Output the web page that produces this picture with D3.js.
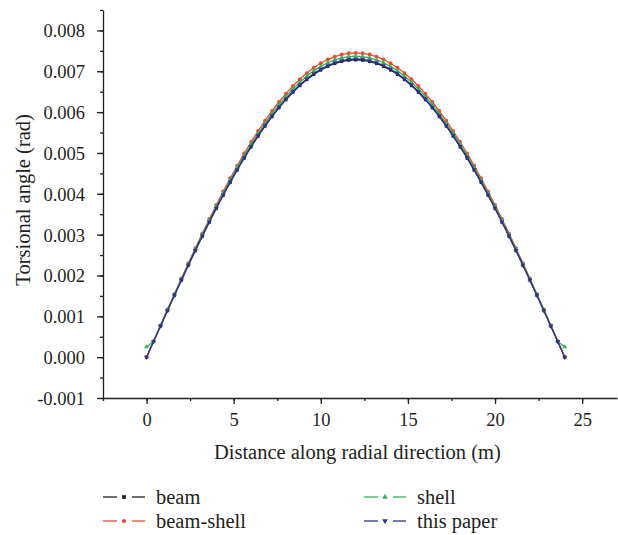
<!DOCTYPE html>
<html>
<head>
<meta charset="utf-8">
<script src="https://unpkg.com/d3@7/dist/d3.min.js"></script>
<style>
  body { margin: 0; background: #fff; }
</style>
</head>
<body>
<div class="chart"></div>
<script>
// distance along radial direction (m), one marker every 0.4 m
const distance = d3.range(0, 61).map(i => +(i * 0.4).toFixed(1));

// torsional angle (rad)
const beam = [
  0.000000, 0.000381, 0.000761, 0.001139, 0.001514, 0.001884, 0.002250, 0.002609, 0.002961, 0.003305,
  0.003640, 0.003965, 0.004279, 0.004581, 0.004871, 0.005148, 0.005410, 0.005657, 0.005890, 0.006106,
  0.006304, 0.006486, 0.006650, 0.006797, 0.006924, 0.007032, 0.007121, 0.007190, 0.007240, 0.007270,
  0.007280,
  0.007270, 0.007240, 0.007190, 0.007121, 0.007032, 0.006924, 0.006797, 0.006650, 0.006486, 0.006304,
  0.006106, 0.005890, 0.005657, 0.005410, 0.005148, 0.004871, 0.004581, 0.004279, 0.003965, 0.003640,
  0.003305, 0.002961, 0.002609, 0.002250, 0.001884, 0.001514, 0.001139, 0.000761, 0.000381, 0.000000
];
const beamShell = [
  0.000000, 0.000390, 0.000779, 0.001165, 0.001549, 0.001928, 0.002302, 0.002670, 0.003030, 0.003382,
  0.003725, 0.004057, 0.004379, 0.004688, 0.004985, 0.005268, 0.005536, 0.005789, 0.006027, 0.006248,
  0.006452, 0.006638, 0.006806, 0.006955, 0.007086, 0.007196, 0.007287, 0.007358, 0.007409, 0.007440,
  0.007450,
  0.007440, 0.007409, 0.007358, 0.007287, 0.007196, 0.007086, 0.006955, 0.006806, 0.006638, 0.006452,
  0.006248, 0.006027, 0.005789, 0.005536, 0.005268, 0.004985, 0.004688, 0.004379, 0.004057, 0.003725,
  0.003382, 0.003030, 0.002670, 0.002302, 0.001928, 0.001549, 0.001165, 0.000779, 0.000390, 0.000000
];
const shell = [
  0.000250, 0.000385, 0.000770, 0.001153, 0.001532, 0.001907, 0.002277, 0.002641, 0.002997, 0.003346,
  0.003685, 0.004014, 0.004332, 0.004638, 0.004931, 0.005211, 0.005477, 0.005727, 0.005962, 0.006181,
  0.006382, 0.006567, 0.006732, 0.006881, 0.007010, 0.007119, 0.007209, 0.007279, 0.007329, 0.007360,
  0.007370,
  0.007360, 0.007329, 0.007279, 0.007209, 0.007119, 0.007010, 0.006881, 0.006732, 0.006567, 0.006382,
  0.006181, 0.005962, 0.005727, 0.005477, 0.005211, 0.004931, 0.004638, 0.004332, 0.004014, 0.003685,
  0.003346, 0.002997, 0.002641, 0.002277, 0.001907, 0.001532, 0.001153, 0.000770, 0.000385, 0.000250
];
const thisPaper = [
  0.000000, 0.000382, 0.000763, 0.001142, 0.001518, 0.001889, 0.002256, 0.002616, 0.002969, 0.003314,
  0.003650, 0.003976, 0.004291, 0.004594, 0.004884, 0.005162, 0.005425, 0.005673, 0.005906, 0.006123,
  0.006322, 0.006504, 0.006669, 0.006815, 0.006943, 0.007051, 0.007140, 0.007210, 0.007260, 0.007290,
  0.007300,
  0.007290, 0.007260, 0.007210, 0.007140, 0.007051, 0.006943, 0.006815, 0.006669, 0.006504, 0.006322,
  0.006123, 0.005906, 0.005673, 0.005425, 0.005162, 0.004884, 0.004594, 0.004291, 0.003976, 0.003650,
  0.003314, 0.002969, 0.002616, 0.002256, 0.001889, 0.001518, 0.001142, 0.000763, 0.000382, 0.000000
];

const seriesNames = ["beam", "beam-shell", "shell", "this paper"];
const seriesColors = ["#231f20", "#ef4a2f", "#2fb457", "#2e3192"];
const seriesSymbols = [d3.symbolSquare, d3.symbolCircle, d3.symbolTriangle, d3.symbolTriangle];
const seriesValues = [beam, beamShell, shell, thisPaper];

const xTicks = [0, 5, 10, 15, 20, 25];
const yTicks = [-0.001, 0, 0.001, 0.002, 0.003, 0.004, 0.005, 0.006, 0.007, 0.008];

const FONT = "Liberation Serif, DejaVu Serif, serif";
const W = 618, H = 535;
const margin = { top: 10, right: 1, bottom: 137, left: 103 };
const width = W - margin.left - margin.right,
  height = H - margin.top - margin.bottom;

const svg = d3.select(".chart")
  .append("svg")
  .attr("width", W)
  .attr("height", H)
  .attr("font-family", FONT);

const g = svg.append("g")
  .attr("transform", "translate(" + margin.left + "," + margin.top + ")");

const xScale = d3.scaleLinear().domain([-2.5, 27]).range([0, width]);
const yScale = d3.scaleLinear().domain([-0.001, 0.0085]).range([height, 0]);

const axisColor = "#231f20";

// minor ticks
g.append("g")
  .attr("transform", `translate(0, ${height})`)
  .call(d3.axisBottom(xScale).tickValues(d3.range(-2.5, 27, 2.5)).tickSize(3).tickFormat(""))
  .call(a => a.select(".domain").remove());
g.append("g")
  .call(d3.axisLeft(yScale).tickValues(d3.range(-0.001, 0.0085, 0.0005)).tickSize(3).tickFormat(""))
  .call(a => a.select(".domain").remove());

// x-axis
const xAxisG = g.append("g")
  .attr("transform", `translate(0, ${height})`)
  .call(d3.axisBottom(xScale).tickValues(xTicks).tickSize(6).tickPadding(9).tickSizeOuter(0));

// y-axis
const fmt = d3.format(".3f");
const yAxisG = g.append("g")
  .call(d3.axisLeft(yScale).tickValues(yTicks).tickSize(6).tickPadding(12)
    .tickSizeOuter(0).tickFormat(d => fmt(d).replace("\u2212", "-")));
yAxisG.selectAll("text").attr("dy", "0.35em");

g.selectAll("g").attr("font-family", FONT).attr("font-size", 18.5);
g.selectAll(".domain, .tick line")
  .attr("stroke", axisColor)
  .attr("stroke-width", 1.3);
g.selectAll(".tick text").attr("fill", axisColor);

// axis titles
g.append("text")
  .attr("text-anchor", "middle")
  .attr("x", xScale(12.5) - 7)
  .attr("y", height + 61)
  .attr("font-size", 20.5)
  .attr("fill", axisColor)
  .text("Distance along radial direction (m)");

g.append("text")
  .attr("text-anchor", "middle")
  .attr("transform", `translate(${-73}, ${yScale(0.00385)}) rotate(-90)`)
  .attr("font-size", 20.5)
  .attr("fill", axisColor)
  .text("Torsional angle (rad)");

// lines + markers
const line = d3.line()
  .x((d, i) => xScale(distance[i]))
  .y(d => yScale(d));

seriesValues.forEach((vals, s) => {
  g.append("path")
    .datum(vals)
    .attr("fill", "none")
    .attr("stroke", seriesColors[s])
    .attr("stroke-width", 1.3)
    .attr("d", line);

  g.selectAll(".m" + s)
    .data(vals)
    .join("path")
    .attr("class", "m" + s)
    .attr("transform", (d, i) => `translate(${xScale(distance[i])},${yScale(d)})` + (s === 3 ? " rotate(180)" : ""))
    .attr("d", d3.symbol().type(seriesSymbols[s]).size(s === 1 ? 12 : 10))
    .attr("fill", seriesColors[s]);
});

// legend
const legendPos = [[103, 497], [103, 521], [364, 497], [364, 521]];
seriesNames.forEach((name, s) => {
  const [lx, ly] = legendPos[s];
  const lg = svg.append("g").attr("transform", `translate(${lx}, ${ly})`);
  lg.append("line").attr("x1", 0).attr("x2", 14).attr("y1", 0).attr("y2", 0)
    .attr("stroke", seriesColors[s]).attr("stroke-width", 1.3);
  lg.append("line").attr("x1", 29).attr("x2", 42).attr("y1", 0).attr("y2", 0)
    .attr("stroke", seriesColors[s]).attr("stroke-width", 1.3);
  lg.append("path")
    .attr("transform", "translate(21,0)" + (s === 3 ? " rotate(180)" : ""))
    .attr("d", d3.symbol().type(seriesSymbols[s]).size(14))
    .attr("fill", seriesColors[s]);
  lg.append("text")
    .attr("x", 53)
    .attr("dy", "0.33em")
    .attr("font-size", 20.5)
    .attr("fill", axisColor)
    .text(name);
});
</script>
</body>
</html>
